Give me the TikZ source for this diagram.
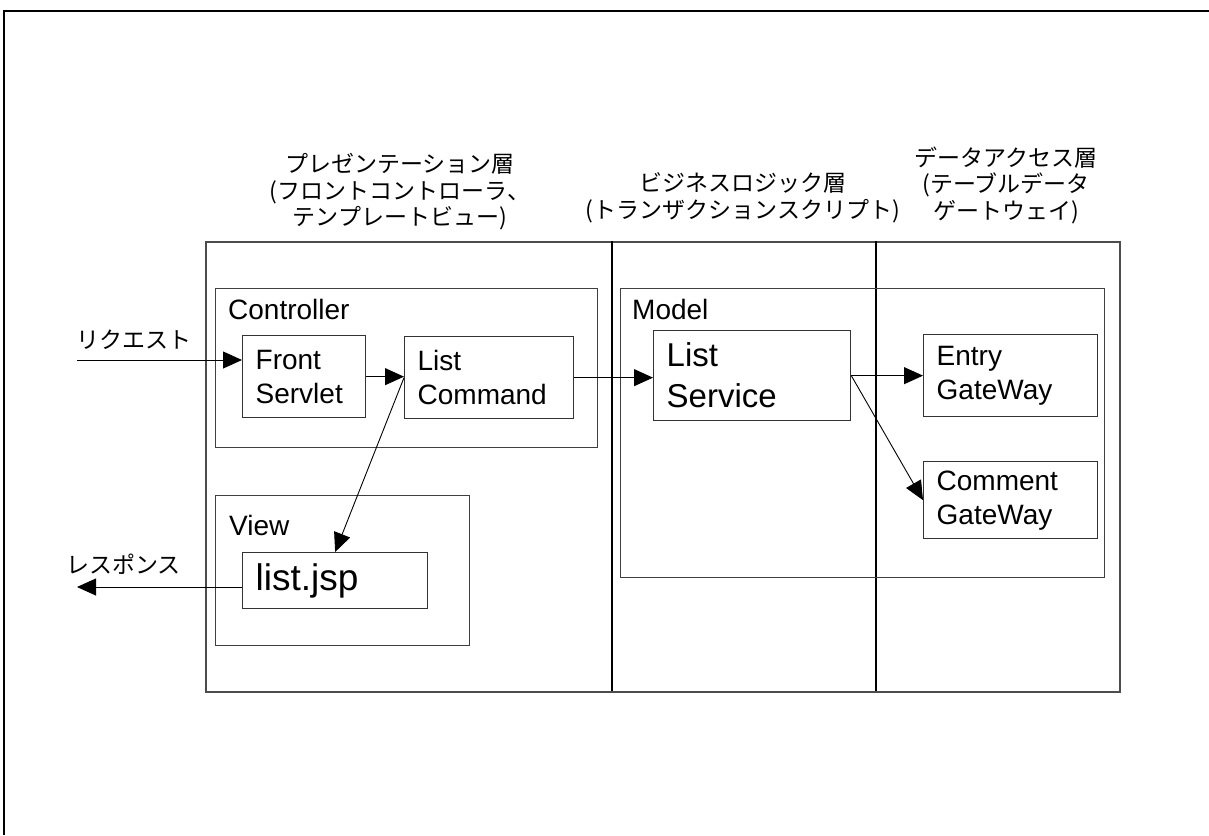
\documentclass[tikz,border=0pt]{standalone}
\usepackage{fontspec}
\setmainfont{Liberation Sans}
\newfontfamily\jp{Noto Sans CJK JP}
\usetikzlibrary{arrows.meta}

\tikzset{
  divider/.style={line width=1.8pt, draw=black},
  group/.style={draw=black!75, line width=1.3pt, rectangle, anchor=north west, inner sep=0pt},
  comp/.style={draw=black!80, line width=1.3pt, rectangle, anchor=north west,
    inner xsep=13pt, inner ysep=0pt, align=left,
    font=\fontsize{28}{34}\selectfont},
  grouplabel/.style={anchor=base west, inner sep=0pt, font=\fontsize{28}{34}\selectfont},
  header/.style={align=center, inner sep=0pt, font=\jp\fontsize{23}{26.5}\selectfont},
  jplabel/.style={anchor=west, inner sep=0pt, font=\jp\fontsize{23}{26}\selectfont},
  arr/.style={line width=0.9pt, -{Triangle[length=19pt,width=17pt]}}
}

\begin{document}
\begin{tikzpicture}[x=1pt, y=-1pt]
  \useasboundingbox (0,0) rectangle (1209,835);

  % page border: heavy top rule, thin left rule
  \draw[line width=2.8pt] (3,11) -- (1209,11);
  \draw[line width=1.4pt] (4,11) -- (4,835);

  % layer headers
  \node[header] (hpres) at (400,192) {プレゼンテーション層\\(フロントコントローラ、\\テンプレートビュー)};
  \node[header] (hbiz) at (743,198) {ビジネスロジック層\\(トランザクションスクリプト)};
  \node[header] (hdata) at (1006,185) {データアクセス層\\(テーブルデータ\\ゲートウェイ)};

  % outer frame with the three layers
  \node[group, draw=black!70, line width=1.6pt, minimum width=914pt, minimum height=450pt] (outer) at (205,241) {};
  \draw[divider] (612,241) -- (612,691);
  \draw[divider] (876,241) -- (876,691);

  % presentation layer groups
  \node[group, minimum width=382pt, minimum height=159pt] (ctrl) at (215,288) {};
  \node[grouplabel] (ctrllbl) at (228,319) {Controller};
  \node[group, minimum width=254pt, minimum height=150pt] (view) at (215,495) {};
  \node[grouplabel] (viewlbl) at (229,535) {View};

  % business + data layer group
  \node[group, minimum width=484pt, minimum height=289pt] (model) at (620,288) {};
  \node[grouplabel] (modellbl) at (632,319) {Model};

  % components
  \node[comp, minimum width=123pt, minimum height=82pt, text width=97pt] (fs) at (242,335) {Front\\Servlet};
  \node[comp, minimum width=169pt, minimum height=82pt, text width=143pt] (lc) at (404,336) {List\\Command};
  \node[comp, minimum width=185pt, minimum height=56pt, text width=159pt,
        font=\fontsize{37}{42}\selectfont] (jsp) at (242,552) {list.jsp};
  \node[comp, minimum width=197pt, minimum height=90pt, text width=171pt,
        font=\fontsize{33}{41}\selectfont] (ls) at (653,330) {List\\Service};
  \node[comp, minimum width=174pt, minimum height=82pt, text width=148pt] (ent) at (923,334) {Entry\\GateWay};
  \node[comp, minimum width=174pt, minimum height=77pt, text width=148pt] (cmt) at (923,461) {Comment\\GateWay};

  % request / response
  \coordinate (reqin) at (77,360);
  \node[jplabel] (reqlbl) at (76,340) {リクエスト};
  \draw[arr] (reqin) -- (reqin -| fs.west);

  \coordinate (respout) at (77,587);
  \node[jplabel] (resplbl) at (66,564) {レスポンス};
  \draw[arr] (jsp.west |- respout) -- (respout);

  % calls between components
  \draw[arr] (fs.east) -- (fs.east -| lc.west);
  \draw[arr] (lc.west) -- (jsp.north);
  \draw[arr] (lc.east) -- (lc.east -| ls.west);
  \draw[arr] (ls.east) -- (ls.east -| ent.west);
  \draw[arr] (ls.east) -- (cmt.west);
\end{tikzpicture}
\end{document}
